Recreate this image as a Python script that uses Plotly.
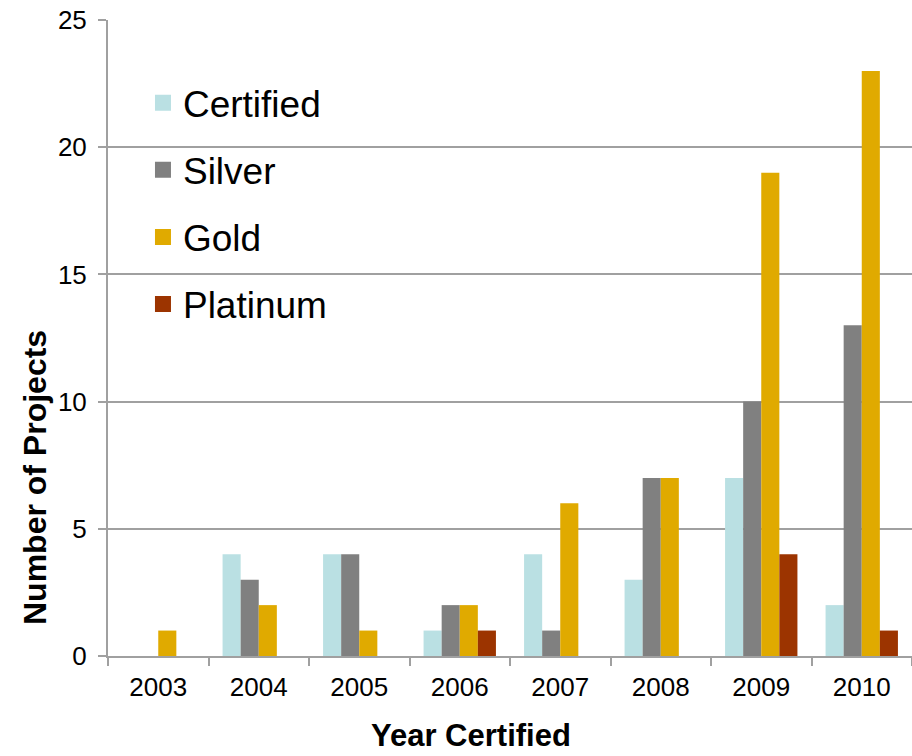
import plotly.graph_objects as go

years = ["2003", "2004", "2005", "2006", "2007", "2008", "2009", "2010"]
certified = [0, 4, 4, 1, 4, 3, 7, 2]
silver = [0, 3, 4, 2, 1, 7, 10, 13]
gold = [1, 2, 1, 2, 6, 7, 19, 23]
platinum = [0, 0, 0, 1, 0, 0, 4, 1]

series = [
    ("Certified", certified, "#BAE0E3"),
    ("Silver", silver, "#808080"),
    ("Gold", gold, "#E0AA00"),
    ("Platinum", platinum, "#9C3400"),
]

fig = go.Figure()
for name, vals, col in series:
    fig.add_trace(go.Bar(x=years, y=vals, name=name, marker_color=col,
                         marker_line_width=0, legendgroup=name, showlegend=False))
for name, vals, col in series:
    fig.add_trace(go.Scatter(x=[None], y=[None], mode="markers", name=name,
                             legendgroup=name,
                             marker=dict(symbol="square", size=20, color=col,
                                         line=dict(width=0))))

fig.update_layout(
    width=912, height=756,
    margin=dict(l=108, r=0, t=20, b=100),
    paper_bgcolor="white", plot_bgcolor="white",
    barmode="group", bargap=0.28, bargroupgap=0,
    font=dict(family="Liberation Sans, Arial, sans-serif", color="black", size=26),
    legend=dict(x=0.0435, y=0.918, xanchor="left", yanchor="top",
                font=dict(size=37), tracegroupgap=16, bgcolor="rgba(0,0,0,0)",
                itemwidth=30),
    showlegend=True,
    annotations=[
        dict(text="<b>Number of Projects</b>", xref="paper", yref="paper",
             x=-0.0908, y=0.2814, xanchor="center", yanchor="middle",
             textangle=-90, showarrow=False, font=dict(size=32)),
        dict(text="<b>Year Certified</b>", xref="paper", yref="paper",
             x=0.4515, y=-0.1255, xanchor="center", yanchor="middle",
             showarrow=False, font=dict(size=31)),
    ],
)
fig.update_xaxes(
    type="category", tickson="boundaries", ticks="outside", ticklen=8,
    tickcolor="#A0A0A0", tickwidth=2, showline=True, linecolor="#A0A0A0",
    linewidth=2, showgrid=False, tickfont=dict(size=26), ticklabelstandoff=7,
)
fig.update_yaxes(
    range=[0, 25], dtick=5, ticks="outside", ticklen=8, tickcolor="#A0A0A0",
    tickwidth=2, showline=True, linecolor="#A0A0A0", linewidth=2,
    showgrid=True, gridcolor="#A0A0A0", gridwidth=2, zeroline=False,
    tickfont=dict(size=26), ticklabelstandoff=6,
)
fig.write_html("out.html", config={"displayModeBar": False},
               post_script="document.body.style.margin='0';")
